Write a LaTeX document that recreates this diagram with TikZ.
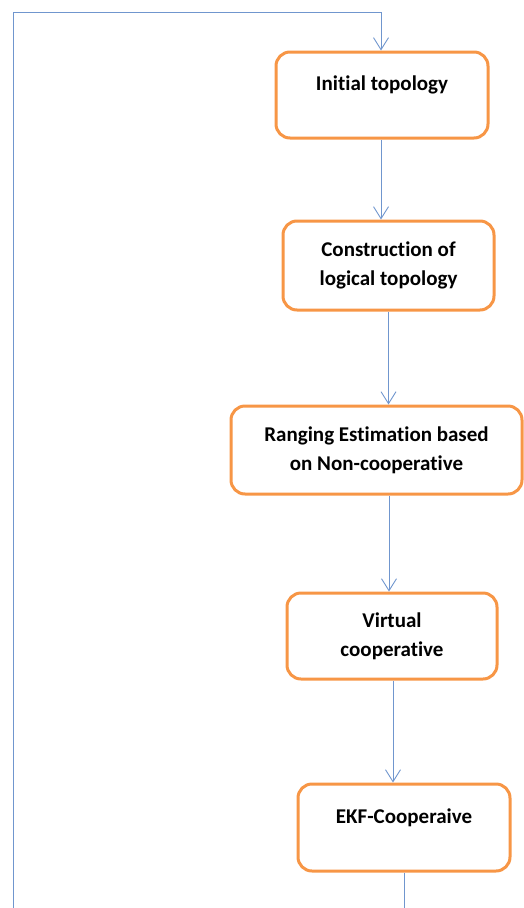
\documentclass[tikz,border=0pt]{standalone}
\usepackage{fontspec}
\setmainfont{Carlito}[Ligatures={NoCommon}]
\usetikzlibrary{arrows.meta}
\definecolor{boxorange}{RGB}{247,150,70}
\definecolor{linkblue}{RGB}{112,150,206}
\begin{document}
\begin{tikzpicture}[x=1pt,y=-1pt,
  stage/.style={draw=boxorange, line width=3pt, rounded corners=14pt, fill=white,
    align=center, inner sep=0pt, font=\bfseries\fontsize{21}{29}\selectfont},
  link/.style={draw=linkblue, line width=0.9pt},
  flow/.style={link, -{Straight Barb[length=12pt,width=15pt,line width=0.9pt]}}]
\useasboundingbox (0,0) rectangle (524,908);
\clip (0,0) rectangle (524,908);

% process stages
\node[stage, minimum width=212pt, minimum height=86pt] (n1) at (382,95)
  {Initial topology\\[-6pt]\mbox{}};
\node[stage, minimum width=211pt, minimum height=89pt] (n2) at (388.5,265.5)
  {Construction of\\logical topology};
\node[stage, minimum width=291pt, minimum height=88pt] (n3) at (376.5,450)
  {Ranging Estimation based\\on Non-cooperative};
\node[stage, minimum width=210pt, minimum height=86pt] (n4) at (392,636)
  {Virtual\\cooperative};
\node[stage, minimum width=212pt, minimum height=87pt] (n5) at (404,827.5)
  {EKF-Cooperaive\\[-6pt]\mbox{}};

% forward flow
\draw[flow] ([xshift=-1pt]n1.south) -- ([xshift=-1pt]n1.south |- n2.north);
\draw[flow] (n2.south) -- (n2.south |- n3.north);
\draw[flow] ([xshift=12.5pt]n3.south) -- ([xshift=12.5pt]n3.south |- n4.north);
\draw[flow] ([xshift=1pt]n4.south) -- ([xshift=1pt]n4.south |- n5.north);

% feedback loop back to the start
\coordinate (loopbr) at (404,916);
\coordinate (loopbl) at (13,916);
\coordinate (looptl) at (13,12);
\coordinate (looptr) at (381,12);
\draw[flow] (n5.south) -- (loopbr) -- (loopbl) -- (looptl) -- (looptr) -- (looptr |- n1.north);
\end{tikzpicture}
\end{document}
